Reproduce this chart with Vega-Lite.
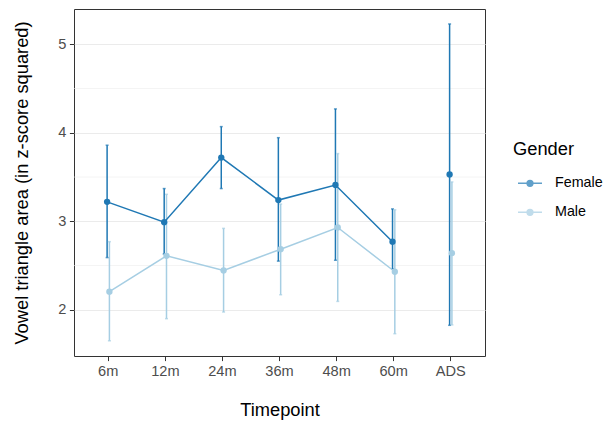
{
  "$schema": "https://vega.github.io/schema/vega-lite/v6.json",
  "width": 411,
  "height": 347,
  "autosize": "none",
  "padding": {"left": 74, "top": 9, "right": 120, "bottom": 67},
  "background": "white",
  "config": {
    "font": "Liberation Sans",
    "view": {"stroke": "#333333", "strokeWidth": 1},
    "axis": {
      "domain": false,
      "tickColor": "#333333",
      "tickSize": 4.6,
      "tickWidth": 1,
      "labelColor": "#4D4D4D",
      "labelFontSize": 14.6,
      "labelFont": "Liberation Sans",
      "titleFont": "Liberation Sans",
      "titleFontSize": 18.3,
      "titleFontWeight": "normal",
      "titleColor": "black",
      "gridColor": "#EBEBEB",
      "gridWidth": 1.1
    },
    "legend": {
      "titleFont": "Liberation Sans",
      "labelFont": "Liberation Sans",
      "titleFontSize": 18.3,
      "titleFontWeight": "normal",
      "titleColor": "black",
      "labelFontSize": 14.3,
      "labelColor": "black"
    }
  },
  "datasets": {
    "stats": [
      {"Timepoint": "6m", "Gender": "Female", "mean": 3.22, "lo": 2.59, "hi": 3.86},
      {"Timepoint": "12m", "Gender": "Female", "mean": 2.99, "lo": 2.63, "hi": 3.37},
      {"Timepoint": "24m", "Gender": "Female", "mean": 3.72, "lo": 3.37, "hi": 4.07},
      {"Timepoint": "36m", "Gender": "Female", "mean": 3.24, "lo": 2.55, "hi": 3.945},
      {"Timepoint": "48m", "Gender": "Female", "mean": 3.41, "lo": 2.56, "hi": 4.27},
      {"Timepoint": "60m", "Gender": "Female", "mean": 2.77, "lo": 2.46, "hi": 3.14},
      {"Timepoint": "ADS", "Gender": "Female", "mean": 3.53, "lo": 1.825, "hi": 5.23},
      {"Timepoint": "6m", "Gender": "Male", "mean": 2.205, "lo": 1.65, "hi": 2.77},
      {"Timepoint": "12m", "Gender": "Male", "mean": 2.61, "lo": 1.9, "hi": 3.305},
      {"Timepoint": "24m", "Gender": "Male", "mean": 2.445, "lo": 1.975, "hi": 2.92},
      {"Timepoint": "36m", "Gender": "Male", "mean": 2.685, "lo": 2.17, "hi": 3.195},
      {"Timepoint": "48m", "Gender": "Male", "mean": 2.93, "lo": 2.095, "hi": 3.765},
      {"Timepoint": "60m", "Gender": "Male", "mean": 2.43, "lo": 1.73, "hi": 3.13},
      {"Timepoint": "ADS", "Gender": "Male", "mean": 2.64, "lo": 1.83, "hi": 3.445}
    ],
    "minor": [{"mean": 2.5}, {"mean": 3.5}, {"mean": 4.5}]
  },
  "data": {"name": "stats"},
  "layer": [
    {
      "data": {"name": "minor"},
      "mark": {"type": "rule", "color": "#EBEBEB", "strokeWidth": 0.6},
      "encoding": {
        "y": {"field": "mean", "type": "quantitative",
          "scale": {"domain": [1.478, 5.399], "nice": false, "zero": false},
          "axis": {"values": [2, 3, 4, 5], "format": "d", "title": "Vowel triangle area (in z-score squared)", "labelPadding": 3.5, "titlePadding": 26}}
      }
    },
    {
      "mark": {"type": "rule", "strokeWidth": 1.5},
      "encoding": {
        "x": {"field": "Timepoint", "type": "nominal", "sort": ["6m", "12m", "24m", "36m", "48m", "60m", "ADS"],
          "scale": {"type": "band", "paddingInner": 0, "paddingOuter": 0.1},
          "axis": {"labelAngle": 0, "bandPosition": 0.5, "title": "Timepoint", "labelPadding": 3, "titlePadding": 23}},
        "xOffset": {"field": "Gender", "type": "nominal", "scale": {"type": "point", "padding": 0, "range": [27.4, 29.7]}},
        "y": {"field": "lo", "type": "quantitative"},
        "y2": {"field": "hi"},
        "color": {"field": "Gender", "type": "nominal", "scale": {"domain": ["Female", "Male"], "range": ["#1F78B4", "#A6CEE3"]}}
      }
    },
    {
      "mark": {"type": "tick", "size": 3, "thickness": 1.5},
      "encoding": {
        "x": {"field": "Timepoint", "type": "nominal", "sort": ["6m", "12m", "24m", "36m", "48m", "60m", "ADS"]},
        "xOffset": {"field": "Gender", "type": "nominal"},
        "y": {"field": "lo", "type": "quantitative"},
        "color": {"field": "Gender", "type": "nominal"}
      }
    },
    {
      "mark": {"type": "tick", "size": 3, "thickness": 1.5},
      "encoding": {
        "x": {"field": "Timepoint", "type": "nominal", "sort": ["6m", "12m", "24m", "36m", "48m", "60m", "ADS"]},
        "xOffset": {"field": "Gender", "type": "nominal"},
        "y": {"field": "hi", "type": "quantitative"},
        "color": {"field": "Gender", "type": "nominal"}
      }
    },
    {
      "transform": [{"filter": "datum.Timepoint != 'ADS'"}],
      "mark": {"type": "line", "strokeWidth": 1.5},
      "encoding": {
        "x": {"field": "Timepoint", "type": "nominal", "sort": ["6m", "12m", "24m", "36m", "48m", "60m", "ADS"]},
        "xOffset": {"field": "Gender", "type": "nominal"},
        "y": {"field": "mean", "type": "quantitative"},
        "color": {"field": "Gender", "type": "nominal"}
      }
    },
    {
      "mark": {"type": "point", "filled": true, "size": 40, "opacity": 1},
      "encoding": {
        "x": {"field": "Timepoint", "type": "nominal", "sort": ["6m", "12m", "24m", "36m", "48m", "60m", "ADS"]},
        "xOffset": {"field": "Gender", "type": "nominal"},
        "y": {"field": "mean", "type": "quantitative"},
        "color": {"field": "Gender", "type": "nominal",
          "legend": {"orient": "none", "legendX": 439, "legendY": 132, "title": "Gender",
            "symbolType": "M-1,0H1M0.24,0A0.24,0.24,0,1,1,-0.24,0A0.24,0.24,0,1,1,0.24,0Z",
            "symbolSize": 576, "symbolStrokeWidth": 1.5, "labelOffset": 12, "rowPadding": 8, "titlePadding": 11, "symbolOffset": 4}}
      }
    }
  ]
}
